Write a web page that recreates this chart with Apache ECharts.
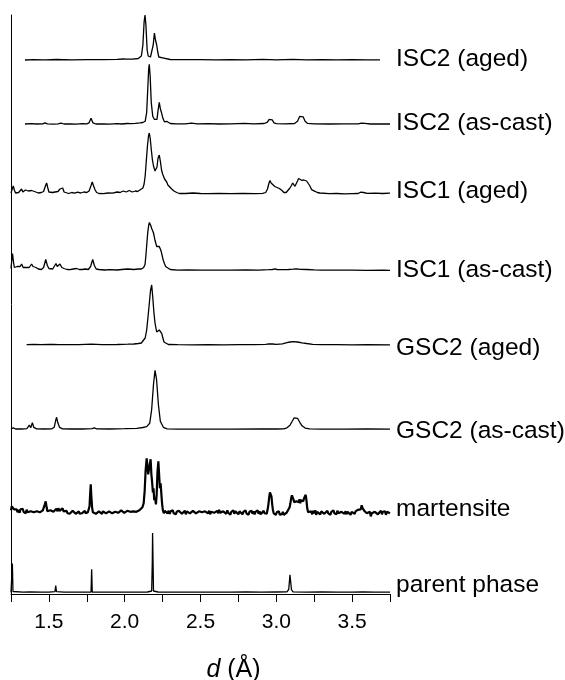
<!DOCTYPE html>
<html>
<head>
<meta charset="utf-8">
<script src="https://cdn.jsdelivr.net/npm/echarts@6/dist/echarts.min.js"></script>
<style>
html,body{margin:0;padding:0;background:#fff;}
#chart{width:565px;height:680px;}
</style>
</head>
<body>
<div id="chart"></div>
<script>
// ---- data (d in Å, relative intensity) ----
const traceNames = ['ISC2 (aged)', 'ISC2 (as-cast)', 'ISC1 (aged)', 'ISC1 (as-cast)', 'GSC2 (aged)', 'GSC2 (as-cast)', 'martensite', 'parent phase'];
const tickLabels = ['1.5', '2.0', '2.5', '3.0', '3.5'];

const isc2Aged = [[1.342,0],[1.40,0.3],[1.46,0.2],[1.468,1.2],[1.48,0.2],[1.55,0.5],[1.65,0.2],[1.75,0.4],[1.85,0.3],[1.95,0.6],[1.99,1],[2.0,1.8],[2.01,0.8],[2.05,0.8],[2.09,1.5],[2.11,4],[2.12,15],[2.128,38],[2.134,45],[2.14,35],[2.148,10],[2.155,4],[2.17,3],[2.18,4],[2.188,15],[2.196,27],[2.203,20],[2.211,15],[2.218,8],[2.225,3],[2.235,1.5],[2.25,2.2],[2.26,1],[2.3,0.5],[2.4,0.3],[2.5,0.4],[2.6,0.2],[2.7,0.3],[2.8,0.2],[2.91,0.6],[3.0,0.2],[3.11,0.6],[3.2,0.2],[3.3,0.3],[3.4,0.1],[3.5,0.3],[3.6,0.2],[3.684,0.2]];

const isc2AsCast = [[1.342,0.3],[1.38,0.6],[1.42,0.3],[1.46,0.5],[1.474,1.5],[1.49,0.4],[1.53,0.2],[1.56,0.5],[1.58,1.2],[1.60,0.3],[1.64,0.5],[1.68,0.2],[1.72,0.6],[1.75,0.4],[1.765,1.5],[1.778,6],[1.79,1.5],[1.81,0.3],[1.86,0.4],[1.9,0.2],[1.95,0.6],[1.98,0.3],[2.015,0.8],[2.028,2.2],[2.04,0.7],[2.07,0.9],[2.1,1.4],[2.12,1.8],[2.135,3],[2.145,12],[2.152,35],[2.158,55],[2.162,60],[2.168,48],[2.175,22],[2.185,8],[2.195,5],[2.205,4],[2.213,5],[2.22,14],[2.228,22],[2.236,15],[2.244,11],[2.252,6],[2.262,2.5],[2.27,1.5],[2.277,3],[2.285,1.5],[2.3,0.8],[2.34,0.5],[2.4,0.4],[2.44,1.2],[2.48,0.4],[2.55,0.6],[2.62,0.3],[2.7,0.5],[2.79,1],[2.85,0.4],[2.92,0.8],[2.94,2],[2.953,5],[2.963,7],[2.973,4.5],[2.985,1.5],[3.0,0.6],[3.06,0.4],[3.12,0.8],[3.14,3],[3.155,8],[3.165,10],[3.177,7.5],[3.19,3],[3.205,1],[3.25,0.4],[3.35,0.3],[3.45,0.5],[3.54,0.4],[3.56,1.2],[3.572,1.8],[3.585,1],[3.62,0.3],[3.7,0.4],[3.75,0.3]];

const isc1Aged = [[1.25,1],[1.258,5],[1.265,8],[1.272,4],[1.28,1],[1.29,3],[1.3,1.5],[1.31,2.5],[1.32,5],[1.328,2],[1.335,1],[1.345,4],[1.355,2.5],[1.365,3],[1.375,2],[1.385,3.5],[1.395,4],[1.405,2.5],[1.415,1.5],[1.43,1],[1.45,1.5],[1.465,2.5],[1.477,8],[1.485,11],[1.493,6],[1.5,2],[1.51,1],[1.525,1.5],[1.54,2],[1.551,4],[1.56,2.5],[1.573,5],[1.58,3],[1.591,6],[1.6,2],[1.61,1],[1.63,0.5],[1.65,1.5],[1.67,0.8],[1.69,1.8],[1.71,1],[1.73,2],[1.75,1.5],[1.765,3],[1.777,8],[1.786,12],[1.795,8],[1.805,4],[1.815,1.5],[1.83,0.5],[1.86,0.3],[1.89,1],[1.92,0.8],[1.95,2],[1.97,1.5],[1.99,3],[2.01,2],[2.03,3.5],[2.05,2],[2.07,3],[2.085,2.5],[2.1,4],[2.11,3],[2.12,6],[2.128,10],[2.135,18],[2.142,32],[2.15,48],[2.157,58],[2.162,61],[2.168,56],[2.175,45],[2.183,34],[2.19,28],[2.2,23],[2.206,22],[2.213,27],[2.22,36],[2.228,39],[2.235,33],[2.243,24],[2.25,20],[2.255,18],[2.263,15],[2.27,14],[2.277,12],[2.285,9],[2.295,7],[2.31,5],[2.325,3],[2.343,1.5],[2.36,0.5],[2.4,0.5],[2.45,1],[2.5,0.5],[2.55,0.3],[2.62,0.5],[2.7,0.3],[2.78,0.5],[2.86,0.3],[2.91,0.6],[2.93,1.5],[2.942,5],[2.95,10],[2.958,13.5],[2.966,11],[2.975,9.5],[2.99,7.5],[3.005,6.5],[3.02,5.5],[3.036,3.7],[3.05,1.5],[3.057,0.5],[3.065,1.5],[3.075,3.5],[3.09,6],[3.1,8.5],[3.108,11],[3.115,9],[3.123,7.7],[3.13,9],[3.14,13],[3.147,15.5],[3.152,15.3],[3.16,13.5],[3.167,13.7],[3.175,14.5],[3.182,14],[3.189,14.3],[3.2,13],[3.211,11.7],[3.222,8],[3.233,4.3],[3.245,3.5],[3.255,2.7],[3.27,1.5],[3.288,1],[3.3,0.6],[3.35,0.3],[3.4,0.5],[3.45,0.2],[3.5,0.4],[3.54,0.5],[3.555,1.8],[3.563,2.3],[3.575,1.5],[3.6,0.6],[3.65,0.8],[3.7,0.5],[3.75,0.8]];

const isc1AsCast = [[1.25,2],[1.255,10],[1.26,17],[1.266,9],[1.272,3],[1.28,2.5],[1.29,4],[1.3,2],[1.31,4],[1.32,6.5],[1.33,3],[1.34,2],[1.35,3],[1.36,4],[1.37,3],[1.38,5],[1.386,6.5],[1.395,4],[1.405,3.5],[1.415,3],[1.43,1.5],[1.45,1],[1.465,3],[1.479,11],[1.49,5],[1.5,2],[1.51,2.5],[1.525,1.5],[1.535,3],[1.547,7],[1.555,4],[1.565,4],[1.573,6.5],[1.585,3],[1.6,2],[1.62,1],[1.64,0.8],[1.66,1.5],[1.683,2],[1.7,1],[1.72,1],[1.74,1.5],[1.76,1],[1.775,4],[1.789,11],[1.8,5],[1.812,1.5],[1.83,1],[1.87,0.5],[1.9,0.8],[1.95,0.5],[1.98,1],[2.02,1.5],[2.06,1],[2.09,1.5],[2.11,1.5],[2.125,3],[2.134,6],[2.14,15],[2.145,25],[2.152,38],[2.158,45],[2.163,48],[2.167,49],[2.172,45],[2.178,42],[2.184,40],[2.189,38],[2.195,34],[2.2,30],[2.206,27],[2.211,24],[2.217,25],[2.222,26],[2.228,24],[2.233,23],[2.239,20],[2.244,17],[2.25,13],[2.255,10],[2.262,7],[2.27,4],[2.28,2],[2.3,1],[2.35,0.3],[2.42,0.5],[2.5,0.3],[2.6,0.4],[2.7,0.3],[2.8,0.5],[2.88,0.4],[2.95,0.8],[2.975,1],[2.991,1.6],[3.005,1],[3.04,0.8],[3.08,1],[3.11,1.3],[3.135,1.6],[3.16,1.2],[3.2,1],[3.25,0.6],[3.3,0.4],[3.4,0.3],[3.5,0.4],[3.6,0.2],[3.7,0.3],[3.75,0.2]];

const gsc2Aged = [[1.353,0.3],[1.4,0.5],[1.45,0.3],[1.5,0.5],[1.535,0.5],[1.547,1.2],[1.56,0.4],[1.62,0.3],[1.7,0.4],[1.78,0.8],[1.85,0.3],[1.95,0.5],[2.02,0.8],[2.06,1],[2.09,1.5],[2.11,2],[2.123,3],[2.135,7],[2.145,15],[2.155,30],[2.162,41],[2.17,54],[2.178,60],[2.185,48],[2.193,32],[2.2,22],[2.211,13],[2.22,13.5],[2.228,15],[2.236,14],[2.244,11.7],[2.252,7],[2.259,3],[2.27,1.5],[2.288,0.5],[2.35,0.3],[2.45,0.2],[2.55,0.3],[2.65,0.2],[2.75,0.3],[2.85,0.3],[2.93,0.6],[2.95,1.2],[2.963,1.7],[2.975,1],[3.0,0.6],[3.04,1.2],[3.07,2.3],[3.09,3],[3.112,3.3],[3.14,3],[3.17,2.2],[3.2,1.5],[3.24,0.6],[3.3,0.3],[3.4,0.3],[3.5,0.2],[3.6,0.3],[3.75,0.2]];

const gsc2AsCast = [[1.25,0.5],[1.265,1.5],[1.28,0.3],[1.32,0.3],[1.355,0.6],[1.365,2],[1.371,4.3],[1.38,1.5],[1.386,3],[1.391,6.7],[1.4,2],[1.42,0.5],[1.47,0.3],[1.52,0.5],[1.535,2],[1.545,9],[1.551,12],[1.558,7],[1.57,2],[1.59,0.5],[1.65,0.3],[1.72,0.3],[1.785,0.6],[1.8,1.5],[1.815,0.5],[1.9,0.3],[2.0,0.6],[2.08,1],[2.12,1.8],[2.145,2.7],[2.165,6],[2.178,20],[2.19,45],[2.2,59],[2.21,50],[2.222,25],[2.235,8],[2.255,2],[2.28,0.5],[2.35,0.2],[2.5,0.2],[2.7,0.2],[2.9,0.3],[3.0,0.3],[3.05,0.5],[3.07,1.5],[3.09,4],[3.105,8],[3.118,11.5],[3.128,12.7],[3.14,11],[3.155,7],[3.17,3.5],[3.19,1.2],[3.22,0.4],[3.3,0.2],[3.45,0.2],[3.6,0.3],[3.75,0.2]];

const martensite = [[1.25,2],[1.255,6],[1.26,4],[1.265,7],[1.27,3],[1.275,5],[1.28,1],[1.287,3],[1.293,0],[1.3,2.5],[1.307,-0.5],[1.313,3],[1.32,1],[1.327,3.5],[1.333,0.5],[1.34,2],[1.347,-1],[1.353,2.5],[1.36,0],[1.367,1.5],[1.373,-1.5],[1.38,1],[1.387,-0.5],[1.393,2],[1.4,0],[1.407,1.5],[1.413,-1],[1.42,1],[1.427,-0.5],[1.433,2],[1.44,0],[1.447,1.5],[1.453,-1],[1.46,2],[1.467,3],[1.473,8],[1.479,11],[1.485,5],[1.49,1],[1.497,2],[1.503,-0.5],[1.51,2],[1.517,0],[1.523,3],[1.53,0.5],[1.537,2.5],[1.543,1],[1.55,3.5],[1.557,1],[1.563,4],[1.57,1.5],[1.577,3.5],[1.583,0.5],[1.59,4],[1.597,1],[1.603,2.5],[1.61,-0.5],[1.617,1.5],[1.623,-1],[1.63,1],[1.637,-1.5],[1.643,0.5],[1.65,-1],[1.657,1.5],[1.663,-0.5],[1.67,1],[1.677,-1.5],[1.683,0.5],[1.69,-1],[1.697,1],[1.703,-1.5],[1.71,0.5],[1.717,-1],[1.723,1],[1.73,-0.5],[1.737,1.5],[1.743,-1],[1.75,1],[1.757,0],[1.763,2],[1.768,6],[1.772,18],[1.776,28],[1.78,16],[1.785,5],[1.79,0],[1.797,-2],[1.803,1],[1.81,-1.5],[1.817,0.5],[1.823,-2],[1.83,1],[1.837,-1],[1.843,0.5],[1.85,-1.5],[1.857,1],[1.863,-0.5],[1.87,1.5],[1.877,-1],[1.883,0.5],[1.89,-1.5],[1.897,1],[1.903,-0.5],[1.91,1.5],[1.917,-1],[1.923,1],[1.93,-1.5],[1.937,0.5],[1.943,-1],[1.95,1.5],[1.957,-0.5],[1.963,1],[1.97,-1],[1.977,2],[1.983,0],[1.99,1.5],[1.997,-0.5],[2.003,1],[2.01,-1],[2.017,1.5],[2.023,0],[2.03,2],[2.037,0.5],[2.043,1.5],[2.05,-0.5],[2.057,1],[2.063,0],[2.07,2],[2.077,0.5],[2.083,1.5],[2.09,0],[2.097,2],[2.103,1],[2.11,3],[2.117,5],[2.125,9],[2.132,22],[2.138,42],[2.145,54],[2.15,45],[2.155,38],[2.16,40],[2.165,48],[2.171,53],[2.176,38],[2.181,30],[2.186,20],[2.19,24],[2.195,12],[2.2,15],[2.206,8],[2.211,18],[2.216,40],[2.222,51],[2.227,38],[2.232,24],[2.237,29],[2.242,18],[2.247,8],[2.252,2],[2.258,-1],[2.264,1.5],[2.27,-0.5],[2.277,2],[2.283,-1],[2.29,1.5],[2.297,-1.5],[2.303,1],[2.31,-0.5],[2.317,2],[2.323,-1],[2.33,1],[2.337,-2],[2.343,0.5],[2.35,-1],[2.357,1.5],[2.363,-0.5],[2.37,2],[2.377,-1.5],[2.383,0.5],[2.39,-1],[2.397,1.5],[2.403,-2],[2.41,1],[2.417,-0.5],[2.423,2],[2.43,-1],[2.437,1],[2.443,-1.5],[2.45,1.5],[2.457,-0.5],[2.463,2],[2.47,-1],[2.477,0.5],[2.483,-2],[2.49,1],[2.497,-1],[2.503,2.5],[2.51,0],[2.517,1.5],[2.523,-1.5],[2.53,1],[2.537,-0.5],[2.543,2],[2.55,-1],[2.557,1.5],[2.563,-2],[2.57,0.5],[2.577,-1],[2.583,2],[2.59,-0.5],[2.597,1],[2.603,-1.5],[2.61,1.5],[2.617,-1],[2.623,2.5],[2.63,-0.5],[2.637,1],[2.643,-2],[2.65,1],[2.657,-1],[2.663,1.5],[2.67,-1.5],[2.677,2],[2.683,-0.5],[2.69,1],[2.697,-2.5],[2.703,0.5],[2.71,-1],[2.717,2],[2.723,-1.5],[2.73,1],[2.737,-0.5],[2.743,2],[2.75,-2],[2.757,1],[2.763,-1],[2.77,1.5],[2.777,-2],[2.783,0.5],[2.79,-1.5],[2.797,2],[2.803,-1],[2.81,1],[2.817,-2.5],[2.823,0.5],[2.83,-1],[2.837,1.5],[2.843,-1.5],[2.85,1],[2.857,-2],[2.863,0.5],[2.87,-1],[2.877,2],[2.883,-1.5],[2.89,1],[2.897,-2],[2.903,0],[2.91,-1],[2.917,1.5],[2.923,-1],[2.93,1],[2.937,-1.5],[2.943,3],[2.948,8],[2.953,15],[2.958,20],[2.963,21.5],[2.968,16],[2.973,8],[2.978,2],[2.983,-1],[2.99,1],[2.997,-2.5],[3.003,0],[3.01,-2],[3.017,1],[3.023,-2.5],[3.03,-0.5],[3.037,-2],[3.043,0.5],[3.05,-2.5],[3.057,-0.5],[3.063,-2],[3.07,0],[3.077,-1],[3.083,2],[3.088,5],[3.093,9],[3.098,14],[3.103,17],[3.108,18],[3.113,13],[3.118,10],[3.123,12],[3.128,8],[3.133,11],[3.138,9],[3.143,12],[3.148,10],[3.153,13],[3.158,9],[3.163,12],[3.168,10],[3.173,13],[3.178,11],[3.183,14],[3.188,16],[3.194,17.5],[3.199,12],[3.204,4],[3.21,0],[3.217,2],[3.223,-1.5],[3.23,1],[3.237,-2],[3.243,1.5],[3.25,-1],[3.257,2],[3.263,-2.5],[3.27,0.5],[3.277,-1],[3.283,1.5],[3.29,-2],[3.297,1],[3.303,-1],[3.31,2],[3.317,-1.5],[3.323,0.5],[3.33,-2],[3.337,1.5],[3.343,-1],[3.35,1],[3.357,-2.5],[3.363,0.5],[3.37,-1.5],[3.377,2],[3.383,-1],[3.39,1],[3.397,-2],[3.403,1.5],[3.41,-1],[3.417,1],[3.423,-2],[3.43,0.5],[3.437,-1],[3.443,2],[3.45,-1.5],[3.457,1],[3.463,-2],[3.47,0.5],[3.477,-1],[3.483,1.5],[3.49,-2.5],[3.497,0.5],[3.503,-1],[3.51,1.5],[3.517,-1.5],[3.523,1],[3.53,-1],[3.537,2.5],[3.543,1],[3.55,4],[3.557,3],[3.563,7],[3.57,4],[3.577,5],[3.583,1],[3.59,3],[3.597,-1],[3.603,1],[3.61,-3],[3.617,0.5],[3.623,-4],[3.63,-1],[3.637,1],[3.643,-2.5],[3.65,0.5],[3.657,-1.5],[3.663,1.5],[3.67,-2],[3.677,0],[3.683,-1.5],[3.69,1.5],[3.697,-2],[3.703,0.5],[3.71,-1],[3.717,1],[3.723,-2.5],[3.73,0.5],[3.737,-1],[3.743,1.5],[3.75,-1]];

const parentPhase = [[1.25,0],[1.255,1],[1.259,29],[1.263,1],[1.27,0.3],[1.33,0.3],[1.375,0.5],[1.38,2.5],[1.385,0.5],[1.45,0.3],[1.5,0.3],[1.54,0.8],[1.545,7],[1.55,0.8],[1.6,0.4],[1.606,1.2],[1.612,0.3],[1.7,0.3],[1.778,0.5],[1.782,23.3],[1.786,0.5],[1.85,0.3],[1.95,0.3],[2.05,0.3],[2.15,0.5],[2.178,1.5],[2.182,30],[2.184,59.5],[2.187,30],[2.19,1.5],[2.22,0.5],[2.3,0.3],[2.4,0.4],[2.5,0.3],[2.6,0.4],[2.7,0.3],[2.8,0.5],[2.9,0.3],[3.0,0.5],[3.07,0.6],[3.082,3],[3.087,12],[3.09,17.7],[3.094,12],[3.1,3],[3.11,0.6],[3.2,0.4],[3.3,0.5],[3.4,0.3],[3.5,0.4],[3.568,0.6],[3.574,2.5],[3.58,0.6],[3.65,0.3],[3.75,0.3]];

const traces = [isc2Aged, isc2AsCast, isc1Aged, isc1AsCast, gsc2Aged, gsc2AsCast, martensite, parentPhase];

// ---- layout (pixel positions) ----
const W = 565, H = 680;
const plotLeft = 11, plotRight = 390, axisY = 594;
const baselines = [60, 124.3, 194, 270.5, 345, 429.3, 512.3, 592.5];
const labelCenters = [57, 121, 189, 268, 346, 429, 507, 583];
const FONT = '"Liberation Sans", Arial, Helvetica, sans-serif';
const xMin = 1.25, xMax = 3.75;

const grids = [{ left: plotLeft, right: W - plotRight, top: 15, bottom: H - axisY, containLabel: false, outerBoundsMode: 'none' }];
const xAxes = [{
  gridIndex: 0, type: 'value', min: xMin, max: xMax, interval: 0.25,
  axisLine: { show: true, lineStyle: { color: '#000', width: 1 } },
  axisTick: { show: true, length: 8, lineStyle: { color: '#000', width: 1 } },
  splitLine: { show: false },
  axisLabel: {
    margin: 18, color: '#000', fontSize: 21, fontFamily: FONT,
    formatter: v => {
      const s = v.toFixed(1);
      return (Math.abs(v * 2 - Math.round(v * 2)) < 1e-9 && tickLabels.includes(s)) ? s : '';
    }
  },
  name: '{i|d} (Å)', nameLocation: 'middle', nameGap: 64,
  nameTextStyle: {
    color: '#000', fontSize: 25, fontFamily: FONT, padding: [0, 0, 0, 66],
    rich: { i: { fontStyle: 'italic', fontSize: 25, fontFamily: FONT, color: '#000' } }
  }
}];
const yAxes = [{
  gridIndex: 0, type: 'value', min: 0, max: 1,
  axisLine: { show: true, lineStyle: { color: '#000', width: 1 } },
  axisTick: { show: false }, axisLabel: { show: false }, splitLine: { show: false }
}];
const series = [];
const graphics = [];
traces.forEach((data, i) => {
  const gi = i + 1;
  // 1 data unit = 1 px: y range -10..40 over 50 px; higher values extend past grid (clip off)
  grids.push({ left: plotLeft, right: W - plotRight, bottom: H - baselines[i] - 10, height: 50, containLabel: false, outerBoundsMode: 'none' });
  xAxes.push({ gridIndex: gi, type: 'value', min: xMin, max: xMax, show: false });
  yAxes.push({ gridIndex: gi, type: 'value', min: -10, max: 40, show: false });
  series.push({
    name: traceNames[i], type: 'line', xAxisIndex: gi, yAxisIndex: gi,
    data: data, showSymbol: false, symbol: 'none', clip: false, silent: true,
    lineStyle: { color: '#000', width: i === 6 ? 2.2 : 1.3 }
  });
  graphics.push({
    type: 'text', left: 396, top: labelCenters[i] - 10,
    style: { text: traceNames[i], fill: '#000', fontSize: 24.5, fontFamily: FONT }
  });
});

const chart = echarts.init(document.getElementById('chart'), null, { renderer: 'canvas' });
chart.setOption({
  animation: false,
  backgroundColor: '#fff',
  grid: grids, xAxis: xAxes, yAxis: yAxes, series: series, graphic: graphics
});
</script>
</body>
</html>
